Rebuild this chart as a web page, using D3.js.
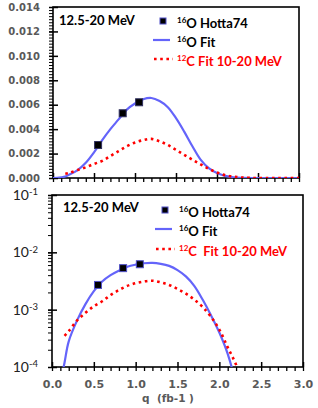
<!DOCTYPE html>
<html>
<head>
<meta charset="utf-8">
<script src="https://cdn.jsdelivr.net/npm/d3@7"></script>
<style>
  body { margin: 0; background: #fff; }
  svg { display: block; }
  .tick text { font-family: "DejaVu Sans", sans-serif; font-weight: bold; fill: #595959; }
</style>
</head>
<body>
<div id="chart"></div>
<script>
// data
const hottaQ = [0.55, 0.85, 1.05];
const hottaV = [0.0027, 0.0053, 0.0062];

const fitOQ = [0, 0.05, 0.1, 0.15, 0.2, 0.3, 0.4, 0.5, 0.6, 0.7, 0.8, 0.9, 1.0, 1.1, 1.2, 1.3, 1.4, 1.5, 1.6, 1.7, 1.8, 1.9, 2.0, 2.1, 2.2, 2.3, 2.5, 3.0];
const fitOV = [0, 0.00001, 0.00005, 0.00012, 0.00028, 0.00065, 0.00125, 0.0021, 0.0031, 0.004, 0.0048, 0.0056, 0.0061, 0.00645, 0.00655, 0.0063, 0.0058, 0.0049, 0.0038, 0.0026, 0.0015, 0.0008, 0.0004, 0.00017, 0.00005, 0.00001, 0, 0];

const fitCQ = [0.15, 0.2, 0.3, 0.4, 0.5, 0.6, 0.7, 0.8, 0.9, 1.0, 1.1, 1.2, 1.3, 1.4, 1.5, 1.6, 1.7, 1.8, 1.9, 2.0, 2.1, 2.2, 2.3, 2.4, 2.6, 3.0];
const fitCV = [0.00035, 0.00042, 0.00065, 0.00088, 0.00115, 0.0014, 0.0018, 0.0022, 0.0026, 0.0029, 0.0031, 0.0032, 0.003, 0.0027, 0.0023, 0.0019, 0.0015, 0.00112, 0.00075, 0.00045, 0.00022, 0.00011, 0.00004, 0.00001, 0, 0];

const xTicks = [0, 0.5, 1.0, 1.5, 2.0, 2.5, 3.0];
const linTicks = [0, 0.002, 0.004, 0.006, 0.008, 0.010, 0.012, 0.014];
const logTicks = [1e-4, 1e-3, 1e-2, 1e-1];
const logExp = ["-4", "-3", "-2", "-1"];

const blue = "#6464fa";
const red = "#ff0000";

const W = 318, H = 408;
const svg = d3.select("#chart").append("svg")
  .attr("width", W)
  .attr("height", H);

const hotta = hottaQ.map((q, i) => ({q: q, v: hottaV[i]}));
const fitO = fitOQ.map((q, i) => ({q: q, v: fitOV[i]}));
const fitC = fitCQ.map((q, i) => ({q: q, v: fitCV[i]}));

function panel(opt) {
  const g = svg.append("g");
  const x = d3.scaleLinear().domain([0, 3]).range([opt.left, opt.right]);
  const y = opt.y;

  const clipId = "clip" + opt.id;
  svg.append("clipPath").attr("id", clipId)
    .append("rect")
      .attr("x", opt.left)
      .attr("y", opt.top)
      .attr("width", opt.right - opt.left)
      .attr("height", opt.bottom - opt.top);

  // minor ticks, outside
  g.append("g")
    .attr("transform", "translate(0," + opt.bottom + ")")
    .call(d3.axisBottom(x).tickValues(d3.range(0, 3.001, 0.1)).tickSize(4).tickFormat(""))
    .call(a => a.select(".domain").remove())
    .selectAll("line").attr("stroke-width", 1.3);

  g.append("g")
    .attr("transform", "translate(" + opt.left + ",0)")
    .call(d3.axisLeft(y).tickValues(opt.minor).tickSize(4).tickFormat(""))
    .call(a => a.select(".domain").remove())
    .selectAll("line").attr("stroke-width", 1);

  // major ticks, inside
  const xa = g.append("g")
    .attr("transform", "translate(0," + opt.bottom + ")")
    .call(d3.axisBottom(x).tickValues(xTicks).tickSize(-5).tickPadding(13)
      .tickFormat(opt.xLabels ? d3.format(".1f") : ""))
    .call(a => a.select(".domain").remove());
  xa.selectAll("line").attr("stroke-width", 1.5);
  xa.selectAll("text").style("font-size", "11px");

  const ya = g.append("g")
    .attr("transform", "translate(" + opt.left + ",0)")
    .call(d3.axisLeft(y).tickValues(opt.major).tickSize(-5).tickPadding(opt.pad)
      .tickFormat(opt.yFormat))
    .call(a => a.select(".domain").remove());
  ya.selectAll("line").attr("stroke-width", 1.5)
    .attr("x1", -4);
  ya.selectAll("text").style("font-size", "10px");

  if (opt.log) {
    ya.selectAll("text").text(null)
      .style("font-family", "Lato, sans-serif")
      .style("font-weight", "normal")
      .style("fill", "#222")
      .style("font-size", "14px")
      .each(function(d, i) {
        const t = d3.select(this);
        t.append("tspan").text("10");
        t.append("tspan").text(logExp[i])
          .attr("dy", "-0.5em")
          .style("font-size", "9.5px");
      });
  }

  // box
  g.append("rect")
    .attr("x", opt.left)
    .attr("y", opt.top)
    .attr("width", opt.right - opt.left)
    .attr("height", opt.bottom - opt.top)
    .attr("fill", "none")
    .attr("stroke", "#000")
    .attr("stroke-width", 1.6);

  const plot = g.append("g").attr("clip-path", "url(#" + clipId + ")");

  const line = d3.line()
    .defined(d => !opt.log || d.v > 0)
    .x(d => x(d.q))
    .y(d => y(d.v))
    .curve(d3.curveCatmullRom.alpha(0.5));

  plot.append("path")
    .datum(fitO)
    .attr("d", line)
    .attr("fill", "none")
    .attr("stroke", blue)
    .attr("stroke-width", 2.2);

  plot.append("path")
    .datum(fitC)
    .attr("d", line)
    .attr("fill", "none")
    .attr("stroke", red)
    .attr("stroke-width", 2.6)
    .attr("stroke-dasharray", "2.6,3.6");

  g.selectAll(".pt" + opt.id).data(hotta).enter()
    .append("rect")
      .attr("class", "pt" + opt.id)
      .attr("x", d => x(d.q) - 3.5)
      .attr("y", d => y(d.v) - 3.5)
      .attr("width", 7)
      .attr("height", 7)
      .attr("fill", "#000")
      .attr("stroke", opt.log ? "#5050c8" : "#303060")
      .attr("stroke-width", 1);

  // energy label
  g.append("text")
    .attr("x", opt.left + opt.labelDx)
    .attr("y", opt.labelY)
    .style("font-family", "Lato, sans-serif")
    .style("font-weight", "bold")
    .style("font-size", "13px")
    .text("12.5-20 MeV");

  // legend
  const lx = opt.legX;
  const lg = g.append("g");
  lg.append("rect")
    .attr("x", lx + 7)
    .attr("y", opt.legY[0] - 3)
    .attr("width", 6)
    .attr("height", 6)
    .attr("fill", "#000")
    .attr("stroke", "#5050c8")
    .attr("stroke-width", 1);
  lg.append("line")
    .attr("x1", lx).attr("x2", lx + 17)
    .attr("y1", opt.legY[1]).attr("y2", opt.legY[1])
    .attr("stroke", blue)
    .attr("stroke-width", 2.2);
  lg.append("line")
    .attr("x1", lx + 1).attr("x2", lx + 20)
    .attr("y1", opt.legY[2]).attr("y2", opt.legY[2])
    .attr("stroke", red)
    .attr("stroke-width", 2.6)
    .attr("stroke-dasharray", "2.6,3.6");

  const names = [["16", "O Hotta74", "#000"], ["16", "O Fit", "#000"], ["12", opt.cName, red]];
  names.forEach(function(n, i) {
    const t = lg.append("text")
      .attr("x", lx + 24)
      .attr("y", opt.legY[i] + 5)
      .attr("fill", n[2])
      .style("font-family", "Lato, sans-serif")
      .style("font-weight", "bold")
      .style("font-size", "13px")
      .attr("xml:space", "preserve");
    t.append("tspan").text(n[0])
      .attr("dy", "-0.35em")
      .style("font-size", "8px");
    t.append("tspan").text(n[1])
      .attr("dy", "0.35em");
  });
}

// top panel, linear
panel({
  id: 1, left: 53, right: 299, top: 7, bottom: 178,
  y: d3.scaleLinear().domain([0, 0.014]).range([178, 7]),
  major: linTicks,
  minor: d3.range(0, 0.01401, 0.00025),
  yFormat: d3.format(".3f"),
  pad: 13,
  xLabels: false,
  labelDx: 6, labelY: 25,
  legX: 153, legY: [21, 40, 59],
  cName: "C Fit 10-20 MeV"
});

// bottom panel, log
panel({
  id: 2, log: true, left: 52, right: 303, top: 195, bottom: 367,
  y: d3.scaleLog().domain([1e-4, 1e-1]).range([367, 195]),
  major: logTicks,
  minor: d3.range(-4, -1).flatMap(e => d3.range(1, 10).map(k => k * Math.pow(10, e))).concat([0.1]),
  yFormat: d => "",
  pad: 14,
  xLabels: true,
  labelDx: 11, labelY: 212,
  legX: 155, legY: [210, 229, 249],
  cName: "C  Fit 10-20 MeV"
});

// axis title
svg.append("text")
  .attr("x", 168)
  .attr("y", 402)
  .attr("text-anchor", "middle")
  .attr("fill", "#595959")
  .style("font-family", "DejaVu Sans, sans-serif")
  .style("font-weight", "bold")
  .style("font-size", "10.5px")
  .attr("xml:space", "preserve")
  .text("q  (fb-1 )");
</script>
</body>
</html>
